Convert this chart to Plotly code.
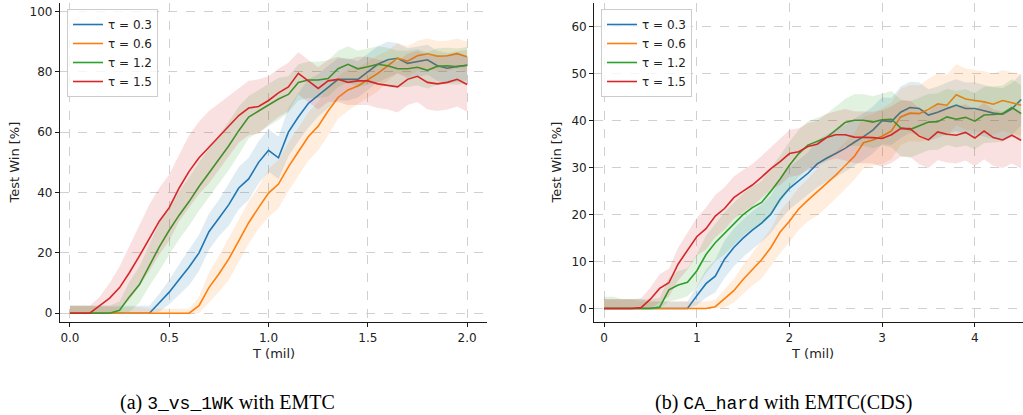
import plotly.graph_objects as go

W, H = 1023, 415

# ---------------- data: (a) 3_vs_1WK ----------------
t_a = [0.0, 0.05, 0.1, 0.15, 0.2, 0.25, 0.3, 0.35, 0.4, 0.45, 0.5, 0.55, 0.6, 0.65, 0.7,
       0.75, 0.8, 0.85, 0.9, 0.95, 1.0, 1.05, 1.1, 1.15, 1.2, 1.25, 1.3, 1.35, 1.4, 1.45,
       1.5, 1.55, 1.6, 1.65, 1.7, 1.75, 1.8, 1.85, 1.9, 1.95, 2.0]

a_tau03 = [0, 0, 0, 0, 0, 0, 0, 0, 0,
           3.5, 7, 11.2, 15.3, 20, 27, 31.5, 36, 41.5, 44.5,
           50, 54, 51.5, 60, 65, 69.5, 72.2, 75, 77.5, 77.5,
           77.5, 80, 82.5, 84, 84.5, 82.8, 83.3, 84, 82, 81.2,
           81.8, 82.2]
a_tau06 = [0, 0, 0, 0, 0, 0, 0, 0, 0, 0, 0, 0, 0,
           2.5, 8.5, 13, 18, 24, 30, 35, 39.8, 42.8, 48.5,
           53.5, 58.5, 62, 67, 71.5, 74, 75.3, 77.5, 79.5, 82,
           84.5, 83.5, 85.3, 86, 85.2, 85.3, 86, 85]
a_tau12 = [0, 0, 0, 0, 0,
           1, 5.5, 9.5, 16, 22, 27.5, 32.5, 37, 42, 46.5,
           51, 55.5, 60.5, 65, 67, 69, 71, 72.5, 76.5, 77.3,
           77.3, 77.8, 81, 82.5, 81, 81.7, 82.5, 82, 81, 81,
           81.5, 80.5, 81.8, 82, 81.7, 82.2]
a_tau15 = [0, 0, 0,
           2.5, 5, 8.5, 13.5, 19, 25, 30.5, 35, 41.5, 47,
           51.5, 55, 58.5, 62, 65.5, 68, 68.5, 70.5, 73, 75,
           79.5, 77, 74.5, 77, 77.5, 76.5, 77, 77, 76, 75.5,
           75, 77.5, 78.5, 76.5, 76, 76.5, 77.5, 75.8]

a_tau03_sd = [2.5, 2.5, 2.5, 2.5, 2.5, 2.5, 2.5, 2.5, 2.5,
              3, 4,
              5, 6, 6, 6, 6, 7, 7, 7, 7, 7,
              7, 8, 8, 8, 7, 7, 7, 7, 6, 6,
              6, 6, 5, 5, 5, 5, 5, 5, 5, 5]
a_tau06_sd = [2.5, 2.5, 2.5, 2, 2, 2, 2, 2, 1.5, 1.5, 1.5, 1.5, 1.5,
              3, 5,
              6, 7, 7, 7, 7, 8, 8, 8, 8, 8,
              8, 8, 7, 7, 6, 6, 6, 5, 5, 5,
              5, 5, 5, 5, 5, 5]
a_tau12_sd = [2.5, 2.5, 2.5, 2.5, 2.5,
              3, 5, 6, 7, 8, 8, 8, 8, 8, 8,
              8, 8, 8, 7, 7, 7, 7, 6, 6, 6,
              6, 6, 6, 6, 6, 6, 6, 6, 6, 6, 6, 6, 6, 6, 6, 6]
a_tau15_sd = [2.5, 2.5, 2.5,
              3, 5, 7, 9, 10, 11, 11, 11, 11, 12,
              12, 12, 11, 10, 9, 9, 9, 8, 8, 8,
              7, 7, 7, 7, 7.5, 7.5, 8, 8, 8, 8,
              8.5, 8.5, 8.5, 9, 9, 9, 9, 9]

# ---------------- data: (b) CA_hard ----------------
t_b = [0.0, 0.1, 0.2, 0.3, 0.4, 0.5, 0.6, 0.7, 0.8, 0.9, 1.0, 1.1, 1.2, 1.3, 1.4, 1.5,
       1.6, 1.7, 1.8, 1.9, 2.0, 2.1, 2.2, 2.3, 2.4, 2.5, 2.6, 2.7, 2.8, 2.9, 3.0, 3.1,
       3.2, 3.3, 3.4, 3.5, 3.6, 3.7, 3.8, 3.9, 4.0, 4.1, 4.2, 4.3, 4.4, 4.5]

b_tau03 = [0, 0, 0, 0, 0, 0, 0, 0, 0, 0,
           2.7, 5.3, 6.9, 10.5, 13, 15, 16.7, 18.2, 20.1, 23.3,
           25.6, 27.2, 28.8, 30.8, 32, 33, 34.1, 35.4, 36.6, 38,
           40, 39.8, 41.8, 42.8, 42.6, 41.2, 41.8, 42.6, 43.3, 42.6,
           42.6, 42.1, 41.6, 41.4, 42.5, 44.5]
b_tau06 = [0, 0, 0, 0, 0, 0, 0, 0, 0, 0, 0, 0,
           0.4, 2.2, 3.8, 6.2, 8.4, 10.4, 13, 16.3, 18.6, 21.2,
           23.1, 24.8, 26.5, 28.4, 30.4, 32.4, 35.3, 35.9, 36.7, 37.8,
           40.8, 41.6, 41.5, 42.4, 43.6, 43.3, 45.5, 44.6, 44.3, 44,
           43.5, 44.3, 43.8, 43.3]
b_tau12 = [0, 0, 0, 0, 0, 0,
           0.3, 4, 5, 5.6, 8, 11.5, 14, 16, 18, 20,
           21.5, 22.6, 25, 27.6, 30.5, 33, 34.8, 35.6, 36.4, 38,
           39.6, 40.1, 40.1, 39.7, 40.2, 40.3, 38.5, 38.1, 38.9, 39.7,
           39.8, 40.8, 40.3, 40.7, 39.9, 41.2, 41.3, 41.5, 42.8, 41.5]
b_tau15 = [0, 0, 0, 0,
           0.2, 2, 4.3, 5.5, 9.5, 12.3, 15.3, 17, 19.7, 21.3,
           23.6, 25, 26.3, 28, 29.8, 31.3, 33, 33.4, 34.5, 35,
           36.4, 37, 37, 36.5, 36.5, 36.4, 36.2, 37, 38.3, 38.3,
           36.7, 35.9, 37.6, 37.1, 36.9, 37.5, 36.3, 37.8, 36.4, 35.9,
           36.9, 35.8]

b_tau03_sd = [2, 2, 2, 2, 2, 1.5, 1.5, 1.5, 1.5, 1.5,
              2, 3, 3.5, 4, 4, 4, 4, 4, 4, 4.5,
              4.5, 4.5, 4.5, 5, 5, 5, 5, 5, 5, 5,
              5, 5, 5.5, 5.5, 5.5, 5.5, 5.5, 5.5, 5.5, 5.5,
              5.5, 5.5, 5.5, 5.5, 5.5, 5.5]
b_tau06_sd = [2, 2, 2, 2, 1.5, 1.5, 1.5, 1.5, 1.5, 1.5, 1.5, 1.5,
              1.5, 2, 2.5, 3, 3.5, 4, 4, 4.5, 4.5, 4.5,
              4.5, 5, 5, 5, 5, 5, 5.5, 5.5, 6, 6,
              6, 6, 6, 6.5, 6.5, 6.5, 6.5, 6.5, 6.5, 6.5,
              6.5, 6.5, 6.5, 6.5]
b_tau12_sd = [2.5, 2.5, 2, 2, 2, 2,
              2, 2.5, 3, 3, 3.5, 4, 4, 4.5, 4.5, 4.5,
              4.5, 4.5, 5, 5, 5, 5, 5, 5, 5, 5,
              5, 5.5, 5.5, 5.5, 5.5, 6, 6, 6, 6, 6,
              6, 6, 6, 6, 6, 6, 6, 6, 6, 6]
b_tau15_sd = [2, 2, 2, 2,
              2, 2.5, 3, 3, 3.5, 4, 4, 4.5, 4.5, 4.5,
              4.5, 4.5, 4.5, 4.5, 4.5, 5, 5, 5, 5, 5,
              5, 5, 5.5, 5.5, 5.5, 5.5, 6, 6, 6, 6,
              6, 6, 6, 6, 6, 6, 6, 6, 6, 6,
              6, 6]

labels = ["τ = 0.3", "τ = 0.6", "τ = 1.2", "τ = 1.5"]
colors = ["#1f77b4", "#ff7f0e", "#2ca02c", "#d62728"]
fills = ["rgba(31,119,180,0.14)", "rgba(255,127,14,0.14)",
         "rgba(44,160,44,0.14)", "rgba(214,39,40,0.14)"]

panels = [
    (t_a, [a_tau03, a_tau06, a_tau12, a_tau15],
     [a_tau03_sd, a_tau06_sd, a_tau12_sd, a_tau15_sd], "x", "y", "legend"),
    (t_b, [b_tau03, b_tau06, b_tau12, b_tau15],
     [b_tau03_sd, b_tau06_sd, b_tau12_sd, b_tau15_sd], "x2", "y2", "legend2"),
]

fig = go.Figure()
for t, means, sds, xa, ya, lg in panels:
    for i in range(4):
        m, s = means[i], sds[i]
        lo = [max(v - d, 0) for v, d in zip(m, s)]
        hi = [v + d for v, d in zip(m, s)]
        fig.add_trace(go.Scatter(
            x=list(t) + list(t)[::-1], y=hi + lo[::-1], fill="toself",
            fillcolor=fills[i], line=dict(width=0), mode="lines",
            hoverinfo="skip", showlegend=False, xaxis=xa, yaxis=ya))
        fig.add_trace(go.Scatter(
            x=t, y=m, mode="lines", name=labels[i],
            line=dict(color=colors[i], width=1.6),
            xaxis=xa, yaxis=ya, legend=lg))


def px(x):
    return x / W


def py(y):
    return 1 - y / H


FONT = "DejaVu Sans"
axis_common = dict(
    showline=True, linecolor="#1a1a1a", linewidth=1.3,
    ticks="outside", ticklen=4, tickwidth=1, tickcolor="#1a1a1a",
    showgrid=True, gridcolor="#d0d0d0", gridwidth=1, griddash="dash",
    zeroline=False, mirror=False,
    tickfont=dict(family=FONT, size=12, color="#222222"),
)
ydom = [py(322), py(3)]

fig.update_layout(
    width=W, height=H, autosize=False,
    margin=dict(l=0, r=0, t=0, b=0),
    paper_bgcolor="white", plot_bgcolor="white",
    font=dict(family=FONT, size=12, color="#222222"),
    xaxis=dict(domain=[px(60), px(487)], anchor="y", range=[-0.05, 2.1],
               tickvals=[0, 0.5, 1.0, 1.5, 2.0],
               ticktext=["0.0", "0.5", "1.0", "1.5", "2.0"], **axis_common),
    yaxis=dict(domain=ydom, anchor="x", range=[-2.9, 102.8],
               tickvals=[0, 20, 40, 60, 80, 100], **axis_common),
    xaxis2=dict(domain=[px(594.3), 1.0], anchor="y2", range=[-0.105, 4.52],
                tickvals=[0, 1, 2, 3, 4], **axis_common),
    yaxis2=dict(domain=ydom, anchor="x2", range=[-2.86, 65.05],
                tickvals=[0, 10, 20, 30, 40, 50, 60], **axis_common),
    legend=dict(x=px(67), y=py(9), xanchor="left", yanchor="top",
                bgcolor="rgba(255,255,255,0.8)", bordercolor="#cccccc",
                borderwidth=1, font=dict(family=FONT, size=12, color="#222222"),
                tracegroupgap=0),
    legend2=dict(x=px(601), y=py(9), xanchor="left", yanchor="top",
                 bgcolor="rgba(255,255,255,0.8)", bordercolor="#cccccc",
                 borderwidth=1, font=dict(family=FONT, size=12, color="#222222"),
                 tracegroupgap=0),
    hovermode=False,
)

ann = []
# axis titles
for xc in (273.5, 812):
    ann.append(dict(text="T (mil)", x=px(xc), y=py(353), xref="paper", yref="paper",
                    showarrow=False, xanchor="center", yanchor="middle",
                    font=dict(family=FONT, size=13, color="#222222")))
for xc in (14, 556):
    ann.append(dict(text="Test Win [%]", x=px(xc), y=py(162.5), xref="paper", yref="paper",
                    showarrow=False, xanchor="center", yanchor="middle", textangle=-90,
                    font=dict(family=FONT, size=13, color="#222222")))
# captions
mono = "font-family:Liberation Mono;font-size:18px"
ann.append(dict(text=f"(a) <span style='{mono}'>3_vs_1WK</span> with EMTC",
                x=px(227.5), y=py(402), xref="paper", yref="paper", showarrow=False,
                xanchor="center", yanchor="middle",
                font=dict(family="Liberation Serif", size=20, color="black")))
ann.append(dict(text=f"(b) <span style='{mono}'>CA_hard</span> with EMTC(CDS)",
                x=px(783), y=py(402), xref="paper", yref="paper", showarrow=False,
                xanchor="center", yanchor="middle",
                font=dict(family="Liberation Serif", size=20, color="black")))
fig.update_layout(annotations=ann)

fig.write_html("out.html")
